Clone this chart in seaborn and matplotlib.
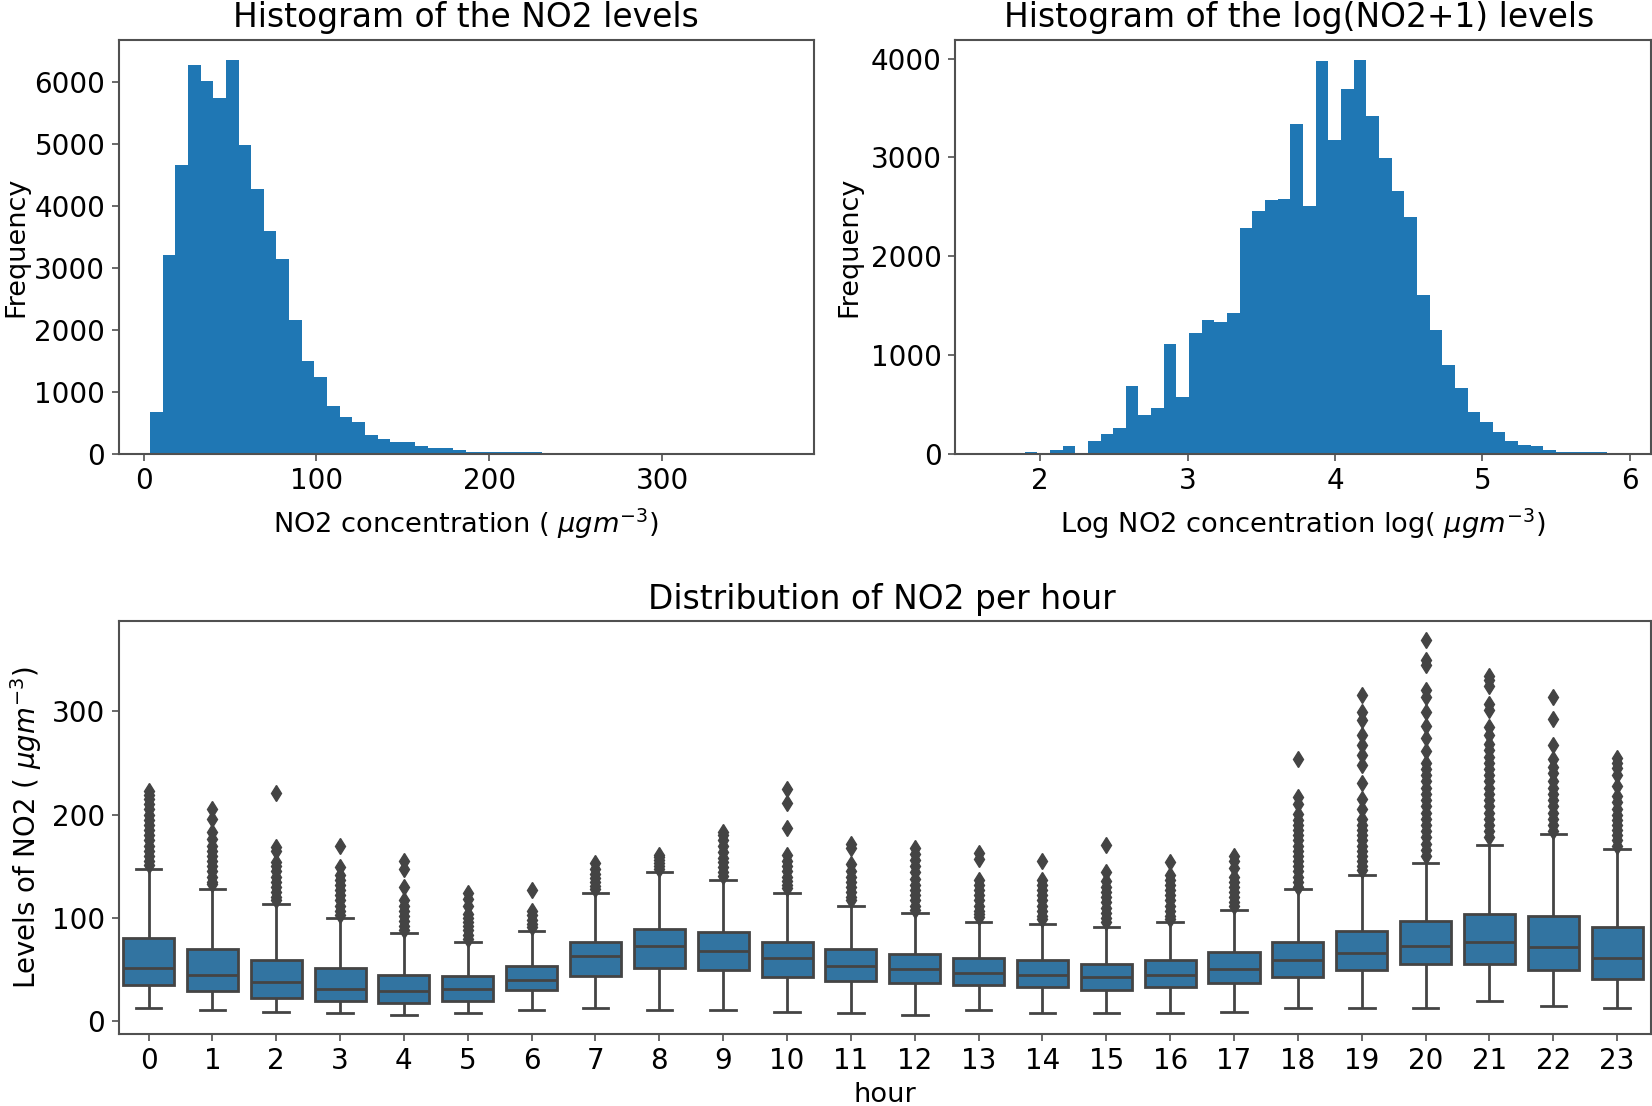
# NO2 histograms and hourly boxplots
import numpy as np
import pandas as pd
import matplotlib
matplotlib.use("Agg")
import matplotlib.pyplot as plt
import seaborn as sns

BLUE = "#1f77b4"
DARK = "#444444"

# histogram of NO2, 50 bins
no2_range = [3.8, 369.3]
no2_counts = [683, 3217, 4656, 6275, 6010, 5740, 6358, 4977, 4272, 3595,
              3149, 2156, 1507, 1241, 779, 593, 508, 305, 243, 186,
              186, 124, 96, 96, 68, 34, 30, 25, 25, 25,
              25, 8, 6, 5, 4, 3, 3, 2, 2, 1,
              1, 1, 1, 1, 1, 0, 1, 0, 0, 1]

# histogram of log(NO2+1), 50 bins
log_range = [1.638, 5.928]
log_counts = [1, 0, 2, 20, 5, 42, 78, 4, 135, 205,
              265, 690, 390, 467, 1108, 573, 1221, 1352, 1335, 1427,
              2290, 2457, 2566, 2584, 3342, 2513, 3972, 3179, 3692, 3988,
              3416, 2991, 2658, 2400, 1607, 1257, 903, 669, 425, 319,
              223, 135, 96, 78, 39, 20, 18, 18, 18, 3]

# boxplot summary per hour
hours = list(range(24))
whisk_low = [13, 11.5, 9.5, 8, 6, 8, 11.5, 13, 11.5, 11.5, 9.5, 8,
             6, 11.5, 8, 8, 8, 9.5, 13, 13, 13, 20, 15, 13]
q1 = [35, 29, 23, 19.5, 17.5, 19.5, 30, 44, 52, 50, 43, 39,
      37, 35, 33.7, 30, 33.7, 37, 43, 49.5, 56, 56, 49.5, 41]
median = [52, 45, 38, 31, 29, 31, 40, 63, 73, 68, 61, 54,
          50.5, 47, 45, 43, 45, 50.5, 59.5, 66.4, 73, 77, 71.7, 61]
q3 = [80.6, 70, 59.5, 52, 45, 43.5, 54, 77, 89.5, 86, 77, 70,
      65, 61, 59.5, 56, 59.5, 66.7, 77, 87.5, 97, 104, 102.2, 91.5]
whisk_high = [147, 128, 114, 100, 85.5, 77, 87.5, 124.5, 144, 137, 124.5, 112,
              105, 96, 94.5, 91, 96, 108, 128, 142, 153, 170.5, 181, 167]
fliers = [
    [151, 155, 160, 165, 170, 175, 180, 185, 190, 195, 200, 205, 210, 215, 219, 223],
    [133, 135, 140, 145, 150, 155, 160, 165, 170, 176, 183, 196, 205],
    [117, 120, 125, 130, 135, 140, 145, 150, 154, 165, 169, 221],
    [103, 107, 112, 117, 122, 127, 132, 137, 142, 149, 170],
    [88, 92, 97, 102, 107, 112, 117, 130, 147, 155],
    [80, 84, 88, 92, 96, 100, 104, 112, 118, 124],
    [91, 94, 98, 103, 107, 127],
    [128, 131, 135, 139, 143, 147, 153],
    [147, 150, 153, 156, 159, 161],
    [141, 144, 149, 154, 158, 164, 170, 175, 180, 183],
    [129, 132, 136, 140, 145, 150, 155, 161, 187, 211, 225],
    [117, 120, 125, 130, 135, 140, 145, 152, 168, 172],
    [108, 112, 117, 122, 127, 132, 138, 144, 150, 156, 162, 168],
    [101, 104, 107, 112, 117, 122, 127, 132, 137, 157, 163],
    [99, 102, 107, 112, 117, 122, 127, 132, 137, 155],
    [96, 100, 105, 110, 115, 120, 125, 130, 136, 144, 171],
    [99, 102, 107, 112, 117, 122, 127, 132, 137, 142, 154],
    [112, 115, 120, 125, 130, 135, 140, 148, 155, 160],
    [130, 135, 140, 145, 150, 155, 160, 165, 170, 175, 180, 185, 190, 195, 201, 210, 217, 254],
    [146, 150, 155, 160, 165, 170, 175, 180, 185, 190, 196, 205, 215, 231, 248, 258, 267, 277, 291, 299, 316],
    [160, 166, 172, 178, 184, 190, 196, 202, 208, 214, 220, 226, 232, 238, 244, 250, 261, 274, 286, 299, 314, 320, 345, 349, 369],
    [178, 184, 190, 196, 202, 208, 214, 220, 226, 232, 238, 244, 250, 256, 262, 268, 277, 285, 301, 307, 324, 330, 334],
    [184, 190, 196, 202, 208, 214, 220, 226, 232, 240, 246, 254, 267, 292, 314],
    [170, 175, 180, 185, 190, 195, 200, 205, 212, 218, 228, 238, 245, 250, 255],
]

# long table for seaborn: the middle values are repeated enough times that
# the quartiles land on the values
rows = []
for i, h in enumerate(hours):
    m = len(fliers[i]) + 1
    vals = [whisk_low[i]] + [q1[i]] * m + [median[i]] * m + [q3[i]] * m + [whisk_high[i]] + fliers[i]
    rows.append(pd.DataFrame({"hour": h, "NO2": vals}))
df_hour = pd.concat(rows, ignore_index=True)

W, H = 1652, 1106
plt.rcParams["font.size"] = 18
plt.rcParams["axes.edgecolor"] = "#505050"
plt.rcParams["axes.linewidth"] = 1.5

fig = plt.figure(figsize=(W / 100, H / 100), dpi=100)


def make_axes(left, top, right, bottom):
    return fig.add_axes([left / W, 1 - bottom / H, (right - left) / W, (bottom - top) / H])


ax1 = make_axes(118.5, 40, 813.5, 454)
ax2 = make_axes(955, 40, 1651, 454)
ax3 = make_axes(118.5, 621, 1651, 1034)


def draw_hist(ax, value_range, counts, pad):
    edges = np.linspace(value_range[0], value_range[1], len(counts) + 1)
    centers = (edges[:-1] + edges[1:]) / 2
    sns.histplot(x=centers, weights=counts, bins=len(counts), binrange=value_range,
                 color=BLUE, alpha=1, linewidth=0, ax=ax)
    ax.set_ylabel("Frequency", fontsize=19.5, labelpad=pad)


draw_hist(ax1, no2_range, no2_counts, 3.5)
ax1.set_title("Histogram of the NO2 levels", fontsize=23.7, pad=9)
ax1.set_xlabel(r"NO2 concentration ( $\mu g m^{-3}$)", fontsize=19.6, labelpad=8)
ax1.set_xticks([0, 100, 200, 300])

draw_hist(ax2, log_range, log_counts, 6)
ax2.set_title("Histogram of the log(NO2+1) levels", fontsize=23.7, pad=9, x=0.494)
ax2.set_xlabel(r"Log NO2 concentration log( $\mu g m^{-3}$)", fontsize=19.6, labelpad=8)
ax2.set_xticks([2, 3, 4, 5, 6])

sns.boxplot(data=df_hour, x="hour", y="NO2", color=BLUE, linecolor=DARK, linewidth=2.0,
            flierprops={"marker": "d", "markerfacecolor": DARK, "markeredgecolor": DARK,
                        "markersize": 8.5}, ax=ax3)
ax3.set_title("Distribution of NO2 per hour", fontsize=23.7, pad=9, x=0.498)
ax3.set_xlabel("hour", fontsize=19.6, labelpad=5)
ax3.set_ylabel(r"Levels of NO2 ( $\mu g m^{-3}$)", fontsize=19.9, labelpad=6)
ax3.set_yticks([0, 100, 200, 300])
ax3.set_xlim(-0.47, 23.53)

for ax in (ax1, ax2, ax3):
    ax.tick_params(labelsize=20, length=5, width=1.2, color="#505050", pad=4.5)

plt.savefig("out.png", dpi=100)
